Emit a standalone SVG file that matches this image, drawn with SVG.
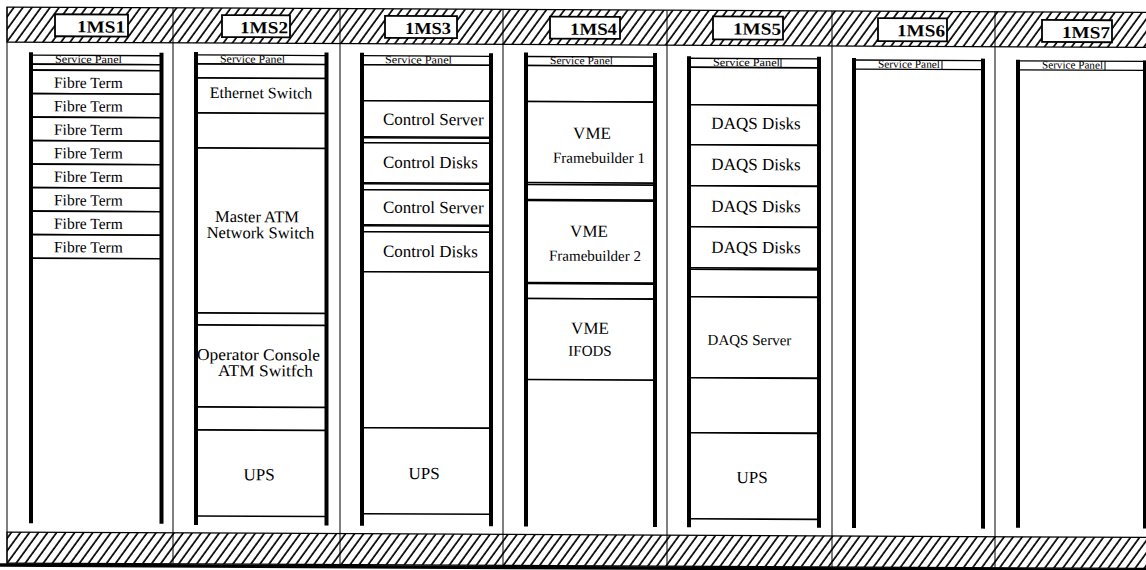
<svg xmlns="http://www.w3.org/2000/svg" width="1146" height="570" viewBox="0 0 1146 570">
<style>
.band{fill:url(#hatch);stroke:#000;stroke-width:1.2}
.div{stroke:#000;stroke-width:1;fill:none}
.post{fill:#000}
.box{fill:#fff;stroke:#000;stroke-width:1.6}
.sp{fill:#fff;stroke:#000;stroke-width:1.3}
.lbl{fill:#fff;stroke:#000;stroke-width:1.8}
.t{font-family:"Liberation Serif","Times New Roman",serif;fill:#000}
.spt{font-family:"Liberation Serif","Times New Roman",serif;font-size:11px;fill:#000}
.lt{font-family:"Liberation Serif","Times New Roman",serif;font-size:17px;font-weight:bold;fill:#000}
</style>
<defs>
<pattern id="hatch" patternUnits="userSpaceOnUse" width="7.3" height="10" patternTransform="rotate(36)">
<rect width="7.3" height="10" fill="#fff"/>
<line x1="1" y1="-1" x2="1" y2="11" stroke="#000" stroke-width="1.7"/>
</pattern>
</defs>
<rect width="1146" height="570" fill="#fff"/>
<g transform="skewY(0.27)">
<g id="frame">
<rect class="band" x="7" y="7" width="1145" height="35"/>
<rect class="band" x="7" y="532" width="1145" height="31"/>
<line x1="0" y1="565" x2="1146" y2="565" stroke="#000" stroke-width="3.5"/>
<line class="div" x1="7" y1="7" x2="7" y2="564"/>
<line class="div" x1="173" y1="7" x2="173" y2="563"/>
<line class="div" x1="340" y1="7" x2="340" y2="563"/>
<line class="div" x1="503" y1="7" x2="503" y2="563"/>
<line class="div" x1="667" y1="7" x2="667" y2="563"/>
<line class="div" x1="832" y1="7" x2="832" y2="563"/>
<line class="div" x1="995" y1="7" x2="995" y2="563"/>
</g>
<g id="labels">
<rect class="lbl" x="55" y="14" width="73" height="22"/><text class="lt" x="125" y="32" text-anchor="end" textLength="48" lengthAdjust="spacingAndGlyphs">1MS1</text>
<rect class="lbl" x="222" y="14" width="68" height="22"/><text class="lt" x="288" y="32" text-anchor="end" textLength="48" lengthAdjust="spacingAndGlyphs">1MS2</text>
<rect class="lbl" x="385" y="14" width="72" height="22"/><text class="lt" x="451" y="32" text-anchor="end" textLength="46" lengthAdjust="spacingAndGlyphs">1MS3</text>
<rect class="lbl" x="550" y="14" width="70" height="22"/><text class="lt" x="617" y="32" text-anchor="end" textLength="47" lengthAdjust="spacingAndGlyphs">1MS4</text>
<rect class="lbl" x="713" y="13" width="70" height="23"/><text class="lt" x="781" y="31" text-anchor="end" textLength="48" lengthAdjust="spacingAndGlyphs">1MS5</text>
<rect class="lbl" x="878" y="14" width="69" height="23"/><text class="lt" x="945" y="32" text-anchor="end" textLength="48" lengthAdjust="spacingAndGlyphs">1MS6</text>
<rect class="lbl" x="1042" y="15" width="70" height="22"/><text class="lt" x="1110" y="33" text-anchor="end" textLength="48" lengthAdjust="spacingAndGlyphs">1MS7</text>
</g>
<g id="rack1">
<rect class="sp" x="31" y="55" width="130" height="9"/><text class="spt" x="55" y="62.5" textLength="67" lengthAdjust="spacingAndGlyphs">Service Panel</text>
<rect class="box" x="31" y="64" width="130" height="6"/>
<rect class="box" x="31" y="70" width="130" height="23.5"/><text class="t" font-size="15.5" x="54" y="87.5">Fibre Term</text>
<rect class="box" x="31" y="93.5" width="130" height="23.5"/><text class="t" font-size="15.5" x="54" y="111">Fibre Term</text>
<rect class="box" x="31" y="117" width="130" height="23.5"/><text class="t" font-size="15.5" x="54" y="134.5">Fibre Term</text>
<rect class="box" x="31" y="140.5" width="130" height="23.5"/><text class="t" font-size="15.5" x="54" y="158">Fibre Term</text>
<rect class="box" x="31" y="164" width="130" height="23.5"/><text class="t" font-size="15.5" x="54" y="181.5">Fibre Term</text>
<rect class="box" x="31" y="187.5" width="130" height="23.5"/><text class="t" font-size="15.5" x="54" y="205">Fibre Term</text>
<rect class="box" x="31" y="211" width="130" height="23.5"/><text class="t" font-size="15.5" x="54" y="228.5">Fibre Term</text>
<rect class="box" x="31" y="234.5" width="130" height="23.5"/><text class="t" font-size="15.5" x="54" y="252">Fibre Term</text>
<rect class="post" x="29" y="52" width="4" height="471"/>
<rect class="post" x="159.5" y="52" width="4" height="471"/>
</g>
<g id="rack2">
<rect class="sp" x="196" y="54" width="130" height="9"/><text class="spt" x="220" y="61.5" textLength="65" lengthAdjust="spacingAndGlyphs">Service Panel</text>
<rect class="box" x="196" y="63" width="130" height="14"/>
<rect class="box" x="196" y="77" width="130" height="35"/><text class="t" font-size="16" x="261" y="97" text-anchor="middle">Ethernet Switch</text>
<rect class="box" x="196" y="112" width="130" height="35"/>
<rect class="box" x="196" y="147" width="130" height="165"/><text class="t" font-size="16.5" x="257" y="221" text-anchor="middle">Master ATM</text><text class="t" font-size="16.5" x="260.5" y="237" text-anchor="middle">Network Switch</text>
<rect class="box" x="196" y="312" width="130" height="12"/>
<rect class="box" x="196" y="324" width="130" height="82"/><text class="t" font-size="16.5" x="197" y="359" textLength="123" lengthAdjust="spacingAndGlyphs">Operator Console</text><text class="t" font-size="16.5" x="218" y="375" textLength="95" lengthAdjust="spacingAndGlyphs">ATM Switfch</text>
<rect class="box" x="196" y="406" width="130" height="23"/>
<rect class="box" x="196" y="429" width="130" height="86"/><text class="t" font-size="17" x="259" y="479" text-anchor="middle">UPS</text>
<rect class="post" x="194" y="51" width="4" height="473"/>
<rect class="post" x="324.5" y="51" width="4" height="473"/>
</g>
<g id="rack3">
<rect class="sp" x="362" y="54" width="129" height="9"/><text class="spt" x="385" y="61.5" textLength="67" lengthAdjust="spacingAndGlyphs">Service Panel</text>
<rect class="box" x="362" y="63" width="129" height="36"/>
<rect class="box" x="362" y="99" width="129" height="36"/><text class="t" font-size="17" x="383" y="123">Control Server</text>
<rect class="box" x="362" y="136" width="129" height="5"/>
<rect class="box" x="362" y="141" width="129" height="40"/><text class="t" font-size="17" x="383" y="166">Control Disks</text>
<rect class="box" x="362" y="182" width="129" height="6"/>
<rect class="box" x="362" y="188" width="129" height="35"/><text class="t" font-size="17" x="383" y="211">Control Server</text>
<rect class="box" x="362" y="224" width="129" height="6"/>
<rect class="box" x="362" y="230" width="129" height="40"/><text class="t" font-size="17" x="383" y="255">Control Disks</text>
<rect class="box" x="362" y="270" width="129" height="156"/>
<rect class="box" x="362" y="426" width="129" height="86"/><text class="t" font-size="17" x="424" y="477" text-anchor="middle">UPS</text>
<rect class="post" x="360" y="51" width="4" height="473"/>
<rect class="post" x="489" y="51" width="4" height="473"/>
</g>
<g id="rack4">
<rect class="sp" x="526" y="54" width="129" height="9"/><text class="spt" x="550" y="61.5" textLength="63" lengthAdjust="spacingAndGlyphs">Service Panel</text>
<rect class="box" x="526" y="63" width="129" height="36"/>
<rect class="box" x="526" y="99" width="129" height="81"/><text class="t" font-size="17" x="592" y="136" text-anchor="middle">VME</text><text class="t" font-size="15" x="599" y="160" text-anchor="middle">Framebuilder 1</text>
<rect class="box" x="526" y="182" width="129" height="15"/>
<rect class="box" x="526" y="198" width="129" height="82"/><text class="t" font-size="17" x="589" y="234" text-anchor="middle">VME</text><text class="t" font-size="15" x="595" y="258" text-anchor="middle">Framebuilder 2</text>
<rect class="box" x="526" y="281" width="129" height="15"/>
<rect class="box" x="526" y="296" width="129" height="81"/><text class="t" font-size="17" x="590" y="331" text-anchor="middle">VME</text><text class="t" font-size="15" x="590" y="353" text-anchor="middle">IFODS</text>
<rect class="post" x="524" y="50" width="4" height="474"/>
<rect class="post" x="653" y="50" width="4" height="474"/>
</g>
<g id="rack5">
<rect class="sp" x="689" y="55" width="130" height="9"/><text class="spt" x="713" y="62.5" textLength="67" lengthAdjust="spacingAndGlyphs">Service Panel</text>
<line x1="781" y1="55" x2="781" y2="64" stroke="#000" stroke-width="1"/>
<rect class="box" x="689" y="64" width="130" height="37.5"/>
<rect class="box" x="689" y="101.5" width="130" height="40"/><text class="t" font-size="17" x="756" y="125.5" text-anchor="middle">DAQS Disks</text>
<rect class="box" x="689" y="141.5" width="130" height="41"/><text class="t" font-size="17" x="756" y="166.5" text-anchor="middle">DAQS Disks</text>
<rect class="box" x="689" y="182.5" width="130" height="41"/><text class="t" font-size="17" x="756" y="208.5" text-anchor="middle">DAQS Disks</text>
<rect class="box" x="689" y="223.5" width="130" height="41"/><text class="t" font-size="17" x="756" y="249.5" text-anchor="middle">DAQS Disks</text>
<rect class="box" x="689" y="266" width="130" height="27.5"/>
<rect class="box" x="689" y="293.5" width="130" height="81"/><text class="t" font-size="15" x="749.5" y="341.5" text-anchor="middle">DAQS Server</text>
<rect class="box" x="689" y="374.5" width="130" height="55"/>
<rect class="box" x="689" y="429.5" width="130" height="86"/><text class="t" font-size="17" x="752" y="479.5" text-anchor="middle">UPS</text>
<rect class="post" x="687" y="53" width="4" height="471"/>
<rect class="post" x="817" y="53" width="4" height="471"/>
</g>
<g id="rack6">
<rect class="sp" x="854" y="56" width="129" height="9"/><text class="spt" x="878" y="63.5" textLength="62" lengthAdjust="spacingAndGlyphs">Service Panel</text>
<line x1="942" y1="56" x2="942" y2="65" stroke="#000" stroke-width="1"/>
<rect class="post" x="852" y="54" width="4" height="470"/>
<rect class="post" x="981" y="54" width="4" height="470"/>
</g>
<g id="rack7">
<rect class="sp" x="1018" y="56" width="130" height="9"/><text class="spt" x="1042" y="63.5" textLength="61" lengthAdjust="spacingAndGlyphs">Service Panel</text>
<line x1="1105" y1="56" x2="1105" y2="65" stroke="#000" stroke-width="1"/>
<rect class="post" x="1016" y="55" width="4" height="468"/>
<rect class="post" x="1143" y="55" width="4" height="468"/>
</g>
<g id="connectors"></g>
</g>
</svg>
